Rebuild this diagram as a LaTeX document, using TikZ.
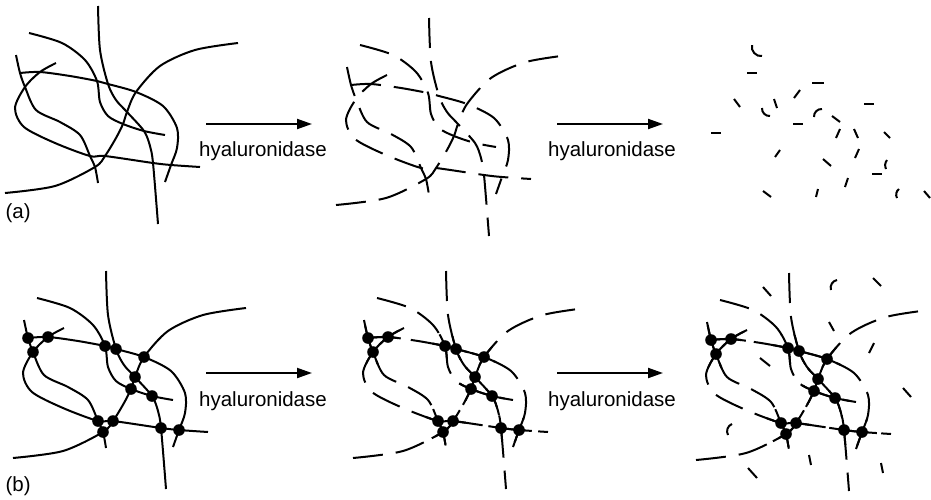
\documentclass[tikz,border=0pt]{standalone}
\usepackage{fontspec}
\setmainfont{Liberation Sans}
\usetikzlibrary{arrows.meta}

% crosslink points of one mesh (panel coordinates)
\newcommand{\haknots}{%
  \coordinate (d1) at (20,73);
  \coordinate (d2) at (40,72);
  \coordinate (d3) at (25,87);
  \coordinate (d4) at (97,81);
  \coordinate (d5) at (108,84);
  \coordinate (d6) at (136,92);
  \coordinate (d7) at (127,112);
  \coordinate (d8) at (123,124);
  \coordinate (d9) at (144,131);
  \coordinate (d10) at (90,156);
  \coordinate (d11) at (105,156);
  \coordinate (d12) at (95,167);
  \coordinate (d13) at (153,163);
  \coordinate (d14) at (171,165);
}
% the six hyaluronan chains
\newcommand{\hanet}[1]{%
  \draw[#1] plot[smooth] coordinates {(98,6) (100,50) (d5) (116,100) (d7) (d9) (150,146) (d13) (158,224)};
  \draw[#1] plot[smooth] coordinates {(29,33) (62,43) (85,60) (d4) (100,102) (108,116) (d8) (d9) (165,135)};
  \draw[#1] plot[smooth] coordinates {(16,55) (d1) (d3) (36,110) (60,122) (80,135) (d10) (d12) (98,183)};
  \draw[#1] plot[smooth] coordinates {(56,63) (d2) (d3) (15,108) (24,127) (55,143) (d10) (d11) (d13) (d14) (200,167)};
  \draw[#1] plot[smooth] coordinates {(d1) (d2) (70,76) (d4) (d5) (d6) (163,106) (177,128) (177,148) (d14) (165,182)};
  \draw[#1] plot[smooth] coordinates {(5,193) (55,186) (d12) (d11) (116,138) (d8) (d7) (d6) (160,66) (195,50) (238,43)};
}
% chain pieces kept around the crosslinks
\newcommand{\hakeep}[1]{%
  \begin{scope}
    \clip (d1) circle (#1) (d2) circle (#1) (d3) circle (#1) (d4) circle (#1)
      (d5) circle (#1) (d6) circle (#1) (d7) circle (#1) (d8) circle (#1)
      (d9) circle (#1) (d10) circle (#1) (d11) circle (#1) (d12) circle (#1)
      (d13) circle (#1) (d14) circle (#1);
    \hanet{strand}
  \end{scope}
}
\newcommand{\hadots}{%
  \foreach \k in {1,...,14} \fill[knot] (d\k) circle (5.8pt);
}

\begin{document}
\begin{tikzpicture}[x=1pt, y=-1pt,
    strand/.style={line width=2pt},
    cut/.style={strand, dash pattern=on 30pt off 13pt},
    knot/.style={fill=black},
    hyarrow/.style={-{Triangle[length=15pt,width=10pt]}, line width=2pt},
    hylabel/.style={font=\fontsize{20.5}{24}\selectfont}]
  \useasboundingbox (0,0) rectangle (931,499);

  % (a) free chains
  \begin{scope}
    \haknots
    \hanet{strand}
  \end{scope}
  \begin{scope}[shift={(331,12)}]
    \haknots
    \hanet{cut}
  \end{scope}
  % short oligosaccharides left after full digestion
  \foreach \ax/\ay/\bx/\by in {747/73/757/73, 812/83/824/83, 794/98/800/90,
      734/99/740/107, 774/99/777/108, 864/104/874/104,
      711/133/721/133, 793/124/803/124, 832/116/840/122,
      840/129/836/138, 854/129/858/138, 884/132/890/138,
      780/150/775/157, 859/149/855/158, 823/159/831/166,
      872/174/882/174, 848/178/845/187, 763/191/771/197,
      818/189/816/197, 924/191/930/198}
    \draw[strand] (\ax,\ay) -- (\bx,\by);
  \draw[strand] (752,45) to[bend right=60] (762,56);
  \draw[strand] (762,108) to[bend right=50] (770,116);
  \draw[strand] (822,109) to[bend right=50] (814,117);
  \draw[strand] (887,160) to[bend right=30] (886,169);
  \draw[strand] (899,189) to[bend right=40] (897,198);

  % (b) crosslinked chains
  \begin{scope}[shift={(8,265)}]
    \haknots
    \hanet{strand}
    \hadots
  \end{scope}
  \begin{scope}[shift={(348,265)}]
    \haknots
    \hanet{cut}
    \hakeep{13pt}
    \hadots
  \end{scope}
  \begin{scope}[shift={(691,267)}]
    \haknots
    \hanet{cut}
    \hakeep{15pt}
    \hadots
    % loose fragments
    \draw[strand] (72,20) -- (80,29);
    \draw[strand] (146,13) to[bend right=50] (140,23);
    \draw[strand] (182,11) -- (190,19);
    \draw[strand] (138,55) -- (143,64);
    \draw[strand] (183,76) -- (178,86);
    \draw[strand] (69,91) -- (79,99);
    \draw[strand] (212,121) -- (220,130);
    \draw[strand] (41,157) to[bend right=50] (37,168);
    \draw[strand] (118,188) -- (120,198);
    \draw[strand] (190,196) -- (192,206);
    \draw[strand] (57,201) -- (66,211);
  \end{scope}

  % enzyme steps
  \coordinate (a1s) at (206,124);
  \coordinate (a1e) at (312,124);
  \coordinate (a2s) at (557,124);
  \coordinate (a2e) at (663,124);
  \coordinate (b1s) at (206,373);
  \coordinate (b1e) at (312,373);
  \coordinate (b2s) at (557,373);
  \coordinate (b2e) at (663,373);
  \draw[hyarrow] (a1s) -- (a1e);
  \draw[hyarrow] (a2s) -- (a2e);
  \draw[hyarrow] (b1s) -- (b1e);
  \draw[hyarrow] (b2s) -- (b2e);
  \node[hylabel, anchor=base] (ha1) at (263,156) {hyaluronidase};
  \node[hylabel, anchor=base] (ha2) at (612,156) {hyaluronidase};
  \node[hylabel, anchor=base] (hb1) at (263,406) {hyaluronidase};
  \node[hylabel, anchor=base] (hb2) at (612,406) {hyaluronidase};

  \node[hylabel, anchor=base west] (la) at (2,218) {(a)};
  \node[hylabel, anchor=base west] (lb) at (2,491) {(b)};
\end{tikzpicture}
\end{document}
